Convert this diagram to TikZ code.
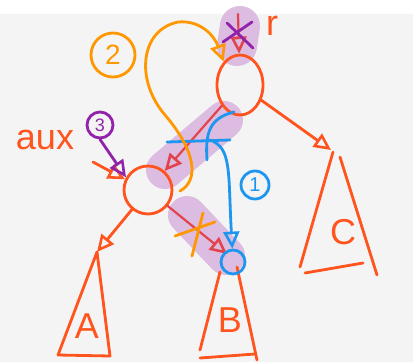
\documentclass[tikz,border=0pt]{standalone}
\usepackage{fontspec}
\setmainfont{Liberation Sans}
\usetikzlibrary{arrows.meta,shapes.geometric}
\definecolor{bg}{RGB}{244,244,244}
\definecolor{rd}{RGB}{255,84,30}
\definecolor{dr}{RGB}{226,68,78}
\definecolor{og}{RGB}{255,152,0}
\definecolor{bl}{RGB}{30,150,240}
\definecolor{pu}{RGB}{145,35,170}
\definecolor{hl}{RGB}{220,188,224}
\tikzset{pen/.style={line width=2.8pt,line cap=round,line join=round},
 rl/.style={pen,draw=rd},dl/.style={pen,draw=dr,line width=2.2pt},
 ol/.style={pen,draw=og},bll/.style={pen,draw=bl},pl/.style={pen,draw=pu},
 arr/.style={-{Triangle[open,length=17pt,width=16pt,line width=2.6pt]}},
 hil/.style={draw=hl,line width=38pt,line cap=round},
 circ/.style={circle,pen,inner sep=0pt},
 lbl/.style={text=rd,font=\fontsize{36}{36}\selectfont}}
\begin{document}
\begin{tikzpicture}[x=1pt,y=-1pt]
\useasboundingbox (0,0) rectangle (413,362);
\fill[bg] (0,14) rectangle (413,362);
% highlights
\draw[hil,line width=40pt] (240,26)--(237,46);
\draw[hil] (165,170)--(224,120);
\draw[hil] (187,215)--(226,256);
% nodes
\node[ellipse,draw=rd,pen,minimum width=46pt,minimum height=60pt,inner sep=0] (r) at (240,85) {};
\node[circle,draw=rd,pen,minimum size=48pt,inner sep=0] (aux) at (148,190) {};
\coordinate (tA) at (97,252);\coordinate (tB) at (227,254);\coordinate (tC) at (331,150);
\coordinate (rp) at (238,14);\coordinate (ap) at (93,162);
% subtrees
\draw[rl] (tA)--(58,355)--(110,356)--cycle;
\draw[rl] (220,272)--(200,350);\draw[rl] (237,267)--(257,360);\draw[rl] (200,358)--(255,354);
\draw[rl] (333,152)--(300,267);\draw[rl] (340,157)--(377,275);\draw[rl] (305,273)--(363,263);
\node[lbl] (la) at (87,326) {A};\node[lbl] (lb) at (230,320) {B};\node[lbl] (lc) at (343,232) {C};
% edges
\draw[rl,arr] (r)--(tC);\draw[rl,arr] (aux)--(tA);
\draw[dl,arr] (r)--(aux);\draw[dl,arr] (aux)--(tB);\draw[dl,arr] (rp)--(r);
% labels
\node[lbl] (lr) at (272,26) {r};\node[lbl] (laux) at (45,140) {aux};
\draw[rl,arr] (ap)--(aux.155);
% step 1
\node[circ,draw=bl,minimum size=24pt] (bc) at (233,262) {};
\draw[bll] (167,142)--(230,140);\draw[bll] (234,112) .. controls (210,118) and (205,132) .. (207,160);
\draw[bll,arr] (210,140) .. controls (232,148) and (228,172) .. (bc);
\node[circ,draw=bl,text=bl,minimum size=28pt,font=\fontsize{20}{20}\selectfont] (n1) at (255,185) {1};
% step 2
\node[circ,draw=og,text=og,minimum size=44pt,font=\fontsize{28}{28}\selectfont] (n2) at (113,55) {2};
\draw[ol,arr] (180,191) .. controls (200,180) and (195,150) .. (165,115) .. controls (135,80) and (140,30) .. (178,22) .. controls (200,20) and (214,35) .. (r.125);
\draw[ol] (175,236)--(215,222);\draw[ol] (203,213)--(192,256);
% step 3
\draw[pl] (227,23)--(253,48);\draw[pl] (223,42)--(252,22);
\node[circ,draw=pu,text=pu,minimum size=26pt,font=\fontsize{18}{18}\selectfont] (n3) at (100,125) {3};
\draw[pl,arr] (n3.south)--(aux.150);
\end{tikzpicture}
\end{document}
